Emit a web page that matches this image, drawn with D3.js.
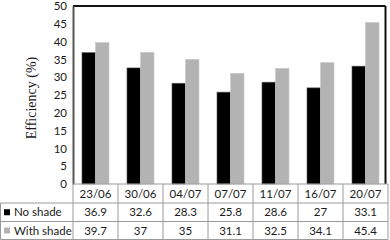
<!DOCTYPE html>
<html><head><meta charset="utf-8">
<script src="https://cdn.jsdelivr.net/npm/d3@7"></script>
<style>body{margin:0;background:#fff}svg{display:block}</style>
</head><body>
<svg id="c" width="390" height="240"></svg>
<script>
const categories = ["23/06","30/06","04/07","07/07","11/07","16/07","20/07"];
const seriesNames = ["No shade","With shade"];
const noShade = [36.9,32.6,28.3,25.8,28.6,27,33.1];
const withShade = [39.7,37,35,31.1,32.5,34.1,45.4];
const noShadeLabels = ["36.9","32.6","28.3","25.8","28.6","27","33.1"];
const withShadeLabels = ["39.7","37","35","31.1","32.5","34.1","45.4"];
const yTicks = [0,5,10,15,20,25,30,35,40,45,50];

const svg = d3.select("#c");
const L = 73, R = 388, T = 6, B = 184;
const colors = ["#000000","#b3b3b3"];
const font = "Lato, 'Open Sans', sans-serif";
const fs = 11.5;

const x = d3.scaleBand().domain(categories).range([L, R]).paddingInner(0.4).paddingOuter(0.2);
const x1 = d3.scaleBand().domain(seriesNames).range([0, x.bandwidth()]);
const y = d3.scaleLinear().domain([0, 50]).range([B, T]);

const series = [noShade, withShade];
const rows = categories.map((c, i) => ({c, vals: series.map((s, k) => ({name: seriesNames[k], v: s[i], k}))}));

const g = svg.append("g").selectAll("g").data(rows).join("g")
  .attr("transform", d => `translate(${x(d.c)},0)`);
g.selectAll("rect").data(d => d.vals).join("rect")
  .attr("x", d => x1(d.name))
  .attr("y", d => y(d.v))
  .attr("width", x1.bandwidth())
  .attr("height", d => y(0) - y(d.v))
  .attr("fill", d => colors[d.k])
  .attr("stroke", d => d.k === 0 ? "#555" : "#c8c8c8")
  .attr("stroke-width", 0.6);

// frame
svg.append("line").attr("x1", L).attr("x2", 385.5).attr("y1", T).attr("y2", T)
  .attr("stroke", "#111").attr("stroke-width", 2);
svg.append("line").attr("x1", 385.5).attr("x2", 385.5).attr("y1", T).attr("y2", B)
  .attr("stroke", "#111").attr("stroke-width", 2);

// y axis
const yAxis = d3.axisLeft(y).tickValues(yTicks).tickSize(0).tickPadding(6);
const ya = svg.append("g").attr("transform", `translate(${L},0)`).call(yAxis);
ya.select(".domain").attr("stroke", "#555").attr("stroke-width", 2);
ya.selectAll("text").attr("font-family", font).attr("font-size", fs).attr("fill", "#1a1a1a");

svg.append("text")
  .attr("transform", `translate(36,98) rotate(-90)`)
  .attr("text-anchor", "middle")
  .attr("font-family", "'Liberation Serif', 'Times New Roman', serif")
  .attr("font-size", 14).attr("fill", "#1a1a1a")
  .text("Efficiency (%)");

// table
const rowY = [184, 203, 221.5, 239.5];
const gridC = "#9a9a9a";
const tbl = svg.append("g");
tbl.append("line").attr("x1", L).attr("x2", R).attr("y1", rowY[0]).attr("y2", rowY[0]).attr("stroke", gridC);
[1,2,3].forEach(i => tbl.append("line").attr("x1", 0.5).attr("x2", R).attr("y1", rowY[i]).attr("y2", rowY[i]).attr("stroke", gridC));
const colEdges = categories.map(c => x(c) - x.step()*x.paddingInner()/2).concat([R]);
colEdges.forEach(cx => tbl.append("line").attr("x1", cx).attr("x2", cx).attr("y1", rowY[0]).attr("y2", rowY[3]).attr("stroke", gridC));
tbl.append("line").attr("x1", 0.5).attr("x2", 0.5).attr("y1", rowY[1]).attr("y2", rowY[3]).attr("stroke", gridC);

const cellText = (txt, cx, row) => tbl.append("text").attr("x", cx).attr("y", (rowY[row] + rowY[row+1]) / 2)
  .attr("dy", "0.35em").attr("text-anchor", "middle")
  .attr("font-family", font).attr("font-size", fs).attr("fill", "#1a1a1a").text(txt);
categories.forEach((c, i) => {
  const cx = x(c) + x.bandwidth() / 2;
  cellText(c, cx, 0);
  cellText(noShadeLabels[i], cx, 1);
  cellText(withShadeLabels[i], cx, 2);
});
seriesNames.forEach((n, k) => {
  const cy = (rowY[k+1] + rowY[k+2]) / 2;
  tbl.append("rect").attr("x", 4).attr("y", cy - 3).attr("width", 6).attr("height", 6).attr("fill", colors[k]);
  tbl.append("text").attr("x", 14).attr("y", cy).attr("dy", "0.35em")
    .attr("font-family", font).attr("font-size", fs).attr("fill", "#1a1a1a").text(n);
});
</script>
</body></html>
